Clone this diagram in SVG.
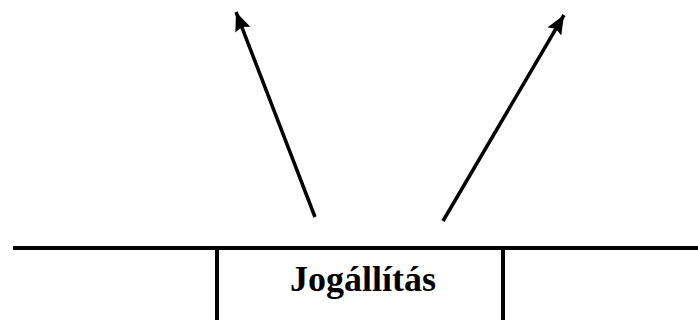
<svg xmlns="http://www.w3.org/2000/svg" width="698" height="320" viewBox="0 0 698 320">
<style>
.ln{stroke:#000;stroke-width:4;fill:none}
.ar{stroke:#000;stroke-width:3.5;fill:none}
.lbl{font-family:"Liberation Serif","Times New Roman",serif;font-weight:bold;font-size:36px;fill:#000}
</style>
<defs>
<marker id="ah" markerUnits="userSpaceOnUse" markerWidth="22" markerHeight="18" refX="19" refY="8" orient="auto">
<path d="M0,0 L19,8 L0,16 L3,8 Z" fill="#000"/>
</marker>
</defs>
<rect width="698" height="320" fill="#fff"/>
<g id="table">
<line class="ln" x1="13" y1="248" x2="698" y2="248"/>
<line class="ln" x1="217" y1="248" x2="217" y2="320"/>
<line class="ln" x1="503" y1="248" x2="503" y2="320"/>
</g>
<g id="node-jogallitas">
<text class="lbl" x="363" y="291" text-anchor="middle">Jogállítás</text>
</g>
<g id="connectors">
<line class="ar" x1="315" y1="217" x2="236" y2="12" marker-end="url(#ah)"/>
<line class="ar" x1="443" y1="221" x2="564" y2="15" marker-end="url(#ah)"/>
</g>
</svg>
